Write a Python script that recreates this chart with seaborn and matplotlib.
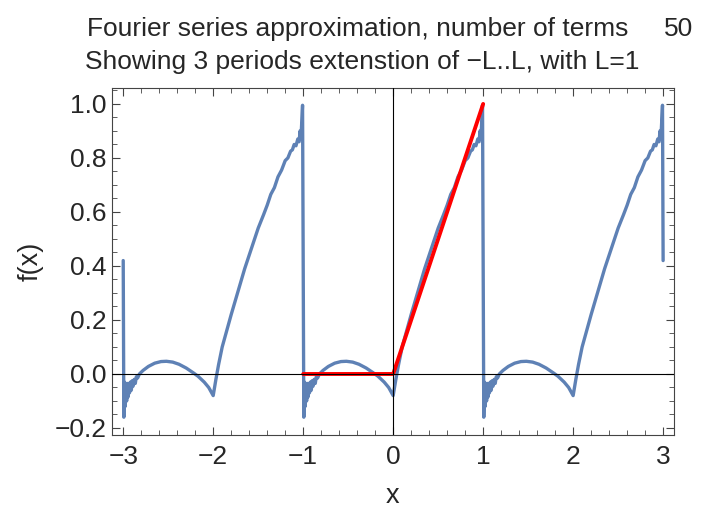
import numpy as np
import pandas as pd
import matplotlib.pyplot as plt
from matplotlib.ticker import MultipleLocator
import seaborn as sns

# one period of the 50-term series (x in [-1, 1))
period_x = [-1.0, -0.993, -0.986, -0.978, -0.970, -0.962, -0.954, -0.946, -0.938,
            -0.930, -0.920, -0.910, -0.900, -0.890, -0.878, -0.866, -0.854, -0.84,
            -0.82, -0.78, -0.72, -0.65, -0.58, -0.52, -0.45, -0.38, -0.30, -0.22,
            -0.17, -0.10, -0.05, 0.0, 0.03, 0.06, 0.10, 0.15, 0.20, 0.28, 0.35,
            0.42, 0.50, 0.56, 0.60, 0.64, 0.68, 0.72, 0.76, 0.80, 0.83, 0.86,
            0.88, 0.90, 0.92, 0.94, 0.955, 0.965, 0.975, 0.985, 0.993]
period_y = [0.42, -0.16, -0.03, -0.12, -0.035, -0.10, -0.035, -0.085, -0.035,
            -0.07, -0.03, -0.06, -0.025, -0.045, -0.02, -0.035, -0.01, -0.015,
            0.0, 0.013, 0.028, 0.04, 0.046, 0.047, 0.044, 0.036, 0.022, 0.004,
            -0.008, -0.03, -0.05, -0.08, -0.02, 0.035, 0.10, 0.16, 0.22, 0.31, 0.39,
            0.46, 0.54, 0.59, 0.625, 0.665, 0.69, 0.73, 0.755, 0.79, 0.80, 0.825,
            0.83, 0.85, 0.845, 0.87, 0.86, 0.90, 0.87, 0.94, 0.995]
period_shift = [-2, 0, 2]
end_x, end_y = 3.0, 0.42

# the function itself on -L..L
f_x = [-1, 0, 1]
f_y = [0, 0, 1]

n_terms = 50
x_ticks = [-3, -2, -1, 0, 1, 2, 3]
y_ticks = [-0.2, 0.0, 0.2, 0.4, 0.6, 0.8, 1.0]

xs, ys = [], []
for s in period_shift:
    xs += [v + s for v in period_x]
    ys += period_y
xs.append(end_x)
ys.append(end_y)
df = pd.DataFrame({'x': xs, 'f': ys})
df_f = pd.DataFrame({'x': f_x, 'f': f_y})

sns.set_style("ticks")
plt.rcParams['font.family'] = ['Liberation Sans', 'DejaVu Sans']

fig = plt.figure(figsize=(7.02, 5.11), dpi=100)
ax = fig.add_axes([0.1595, 0.1487, 0.8005, 0.6791])

ax.axhline(0, color='black', lw=0.8, zorder=5)
ax.axvline(0, color='black', lw=0.8, zorder=5)
sns.lineplot(data=df, x='x', y='f', ax=ax, color='#5E81B5', lw=2.4,
             estimator=None, sort=False, zorder=3)
sns.lineplot(data=df_f, x='x', y='f', ax=ax, color='red', lw=2.8,
             estimator=None, sort=False, zorder=4)

ax.set_xlim(-3.125, 3.12)
ax.set_ylim(-0.226, 1.059)
ax.xaxis.set_minor_locator(MultipleLocator(0.2))
ax.yaxis.set_minor_locator(MultipleLocator(0.05))
ax.set_xticks(x_ticks)
ax.set_xticklabels([f'{v:g}'.replace('-', '\u2212') for v in x_ticks])
ax.set_yticks(y_ticks)
ax.set_yticklabels([f'{v:.1f}'.replace('-', '\u2212') for v in y_ticks])
ax.tick_params(which='both', direction='in', top=True, right=True,
               labelsize=19, color='#444444')
ax.tick_params(axis='x', which='major', pad=7)
ax.tick_params(axis='y', which='major', pad=4)
ax.tick_params(which='major', length=6, width=0.8)
ax.tick_params(which='minor', length=3.5, width=0.6)
for sp in ax.spines.values():
    sp.set_color('#444444')
    sp.set_linewidth(0.8)

ax.set_xlabel('x', fontsize=19.5, labelpad=10)
ax.set_ylabel('f(x)', fontsize=19.5, labelpad=8)

fig.text(87 / 702, 1 - 36 / 511, 'Fourier series approximation, number of terms',
         fontsize=19, ha='left', va='baseline')
fig.text(693 / 702, 1 - 36 / 511, str(n_terms), fontsize=19, ha='right', va='baseline')
fig.text(85 / 702, 1 - 69.5 / 511, 'Showing 3 periods extenstion of \u2212L..L, with L=1',
         fontsize=19, ha='left', va='baseline')

fig.savefig('out.png', dpi=100)
